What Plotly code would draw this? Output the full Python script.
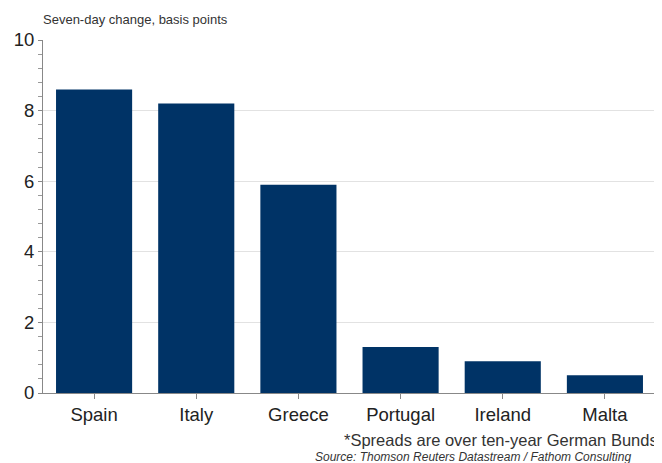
import plotly.graph_objects as go

countries = ["Spain", "Italy", "Greece", "Portugal", "Ireland", "Malta"]
change_bp = [8.6, 8.2, 5.9, 1.3, 0.9, 0.5]
y_ticks = [0, 2, 4, 6, 8, 10]

fig = go.Figure(go.Bar(x=countries, y=change_bp, marker_color="#003366",
                       marker_line_width=0))

fig.update_layout(
    width=654, height=455,
    margin=dict(l=33, r=6, t=32, b=70),
    plot_bgcolor="white", paper_bgcolor="white",
    bargap=0.255,
    showlegend=False,
    font=dict(family="Liberation Sans, Arial, sans-serif", color="#222"),
    xaxis=dict(showline=True, linecolor="#888", linewidth=1,
               ticks="outside", ticklen=5, tickcolor="#888",
               tickfont=dict(size=18.5, color="#222"), showgrid=False),
    yaxis=dict(range=[0, 10], tickvals=y_ticks, showline=True, linecolor="#888",
               linewidth=1, ticks="outside", ticklen=4, tickcolor="#888",
               tickfont=dict(size=18.5, color="#222"),
               gridcolor="#e2e2e2", gridwidth=1,
               minor=dict(dtick=0.4, ticks="outside", ticklen=4, tickcolor="#999",
                          showgrid=False),
               zeroline=False),
    annotations=[
        dict(text="Seven-day change, basis points", xref="paper", yref="paper",
             x=0, y=1, yanchor="bottom", xanchor="left", yshift=11, xshift=-2,
             showarrow=False, font=dict(size=13, color="#333")),
        dict(text="*Spreads are over ten-year German Bunds", xref="paper", yref="paper",
             x=1, y=0, xanchor="right", yanchor="top", yshift=-36, xshift=4,
             showarrow=False, font=dict(size=16.5, color="#333")),
        dict(text="Source: Thomson Reuters Datastream / Fathom Consulting",
             xref="paper", yref="paper", x=0.44, y=0, xanchor="left", yanchor="top",
             yshift=-55, showarrow=False,
             font=dict(size=12, color="#333", style="italic")),
    ],
)

fig.write_html("out.html")
